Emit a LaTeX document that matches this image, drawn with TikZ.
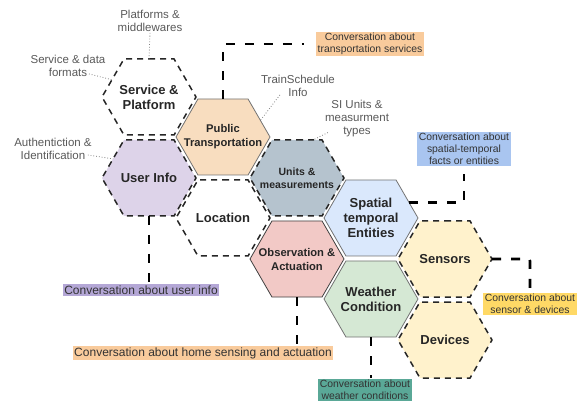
\documentclass[tikz,border=0pt]{standalone}
\usepackage{fontspec}
\setmainfont{Liberation Sans}
\usetikzlibrary{shapes.symbols}

\begin{document}
\begin{tikzpicture}[x=1pt,y=-1pt,
  every label/.append style={shape=rectangle,inner sep=0pt,align=center,text=black!85,font=\bfseries\fontsize{13}{15}\selectfont},
  hex/.style={shape=signal,signal to=west and east,signal pointer angle=120,minimum width=94pt,minimum height=76pt,inner sep=0pt,outer sep=0pt},
  dhex/.style={hex,draw=black!85,line width=1.5pt,dash pattern=on 6pt off 5pt},
  shex/.style={hex,draw=black!55,line width=0.8pt},
  note/.style={align=center,text=black!65,font=\fontsize{11.5}{13}\selectfont,inner sep=1pt},
  talk/.style={align=center,text=black!80,inner sep=1.5pt,font=\fontsize{10.4}{12}\selectfont},
  conn/.style={line width=2.6pt,dash pattern=on 9pt off 10pt,rounded corners=2pt},
  hint/.style={draw=black!50,line width=0.8pt,dotted}]
\useasboundingbox (0,0) rectangle (579,401);
\definecolor{ptfill}{HTML}{F8DDBF}
\definecolor{uifill}{HTML}{DDD3E9}
\definecolor{unfill}{HTML}{B5C3CE}
\definecolor{obfill}{HTML}{F2C9C6}
\definecolor{stfill}{HTML}{DAE8FC}
\definecolor{wcfill}{HTML}{D5E8D4}
\definecolor{sdfill}{HTML}{FFF2CC}
\definecolor{orlabel}{HTML}{F9CB9C}
\definecolor{bllabel}{HTML}{A9C5F0}
\definecolor{pulabel}{HTML}{B4A7D6}
\definecolor{yelabel}{HTML}{FFD966}
\definecolor{telabel}{HTML}{5AA897}

\node [dhex,label={center:Service \&\\Platform}] (svc) at (149,97) {};
\node [dhex,fill=uifill,label={center:User Info}] (user) at (149,178) {};
\node [dhex,label={center:Location}] (loc) at (223,218) {};
\node [dhex,fill=unfill,label={[font=\bfseries\fontsize{10.5}{13}\selectfont]center:Units \&\\measurements}] (units) at (297,178) {};
\node [dhex,fill=sdfill,label={center:Sensors}] (sensors) at (445,259) {};
\node [dhex,fill=sdfill,label={center:Devices}] (devices) at (445,340) {};
\node [shex,fill=ptfill,label={[font=\bfseries\fontsize{11.2}{14}\selectfont]center:Public\\Transportation}] (pt) at (223,137) {};
\node [shex,fill=obfill,draw=black!75,label={[font=\bfseries\fontsize{11.2}{14}\selectfont]center:Observation \&\\Actuation}] (obs) at (297,259) {};
\node [shex,fill=stfill,label={center:Spatial\\temporal\\Entities}] (spatial) at (371,218) {};
\node [shex,fill=wcfill,label={center:Weather\\Condition}] (weather) at (371,299) {};

\node [note] (pm) at (150,21) {Platforms \&\\middlewares};
\node [note] (sdf) at (68,66) {Service \& data\\formats};
\node [note] (auth) at (53,149) {Authentiction \&\\Identification};
\node [note] (tsi) at (298,86) {TrainSchedule\\Info};
\node [note] (siu) at (357,119) {SI Units \&\\measurment\\types};

\node [talk,fill=orlabel] (trlabel) at (370,44) {Conversation about\\transportation services};
\node [talk,fill=bllabel] (stlabel) at (464,149) {Conversation about\\spatial-temporal\\facts or entities};
\node [talk,fill=pulabel,font=\fontsize{12}{14}\selectfont] (uilabel) at (141,290) {Conversation about user info};
\node [talk,fill=orlabel,font=\fontsize{12}{14}\selectfont] (hslabel) at (203,353) {Conversation about home sensing and actuation};
\node [talk,fill=yelabel] (sdlabel) at (530,304) {Conversation about\\sensor \& devices};
\node [talk,fill=telabel] (wclabel) at (365,390) {Conversation about\\weather conditions};

\draw [conn] (pt.north) |- ([xshift=-12pt]trlabel.west);
\draw [conn] (spatial.22) -| ([yshift=-7pt]stlabel.south);
\draw [conn] (sensors.east) -| ([yshift=2pt]sdlabel.north);
\draw [conn] (user.south) -- (user.south |- uilabel.north);
\draw [conn] (obs.south) -- (obs.south |- hslabel.north);
\draw [conn] (weather.south) -- (weather.south |- wclabel.north);

\draw [hint] (pm.south) -- (svc.north);
\draw [hint] ([xshift=21pt,yshift=4pt]sdf.south) -- (svc.155);
\draw [hint] ([xshift=-5pt,yshift=-6pt]auth.east) -- (user.152);
\draw [hint] ([xshift=20pt,yshift=3pt]tsi.south west) -- (pt.24);
\draw [hint] ([xshift=4pt,yshift=6pt]siu.south west) -- ([xshift=16pt]units.north);
\end{tikzpicture}
\end{document}
